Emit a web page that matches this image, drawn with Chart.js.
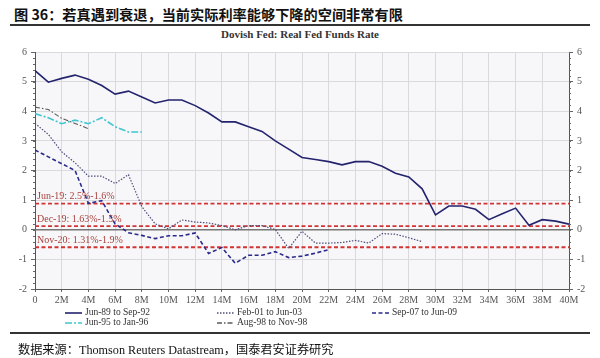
<!DOCTYPE html>
<html>
<head>
<meta charset="utf-8">
<script src="https://cdn.jsdelivr.net/npm/chart.js@4"></script>
<style>
  body { margin: 0; background: #fff; }
  #wrap { position: relative; width: 600px; height: 358px; overflow: hidden; }
  #chart { position: absolute; left: 0; top: 0; }
  .txt { position: absolute; white-space: nowrap; }
  #title { left: 14px; top: 4px; font: bold 14.2px "Noto Sans CJK SC", sans-serif; color: #111; }
  #sub { left: 0; width: 600px; text-align: center; top: 28px; font: bold 11px "Liberation Serif", serif; color: #333; }
  .rule { position: absolute; left: 10px; width: 580px; height: 1.5px; background: #333; }
  #src { left: 18px; top: 340px; font: 12.2px "Liberation Serif", "Noto Sans CJK SC", serif; color: #111; }
  .leg { position: absolute; font: 9.5px "Liberation Serif", serif; color: #333; }
  .leg svg { vertical-align: middle; margin-right: 3px; }
</style>
</head>
<body>
<div id="wrap">
  <div id="title" class="txt">图 36：若真遇到衰退，当前实际利率能够下降的空间非常有限</div>
  <div class="rule" style="top:24px"></div>
  <div id="sub" class="txt">Dovish Fed: Real Fed Funds Rate</div>
  <canvas id="chart" width="600" height="358"></canvas>
  <div id="legend"></div>
  <div class="rule" style="top:332px"></div>
  <div id="src" class="txt">数据来源：Thomson Reuters Datastream，国泰君安证券研究</div>
</div>
<script>
// months since start of each easing cycle
const jun89 = [5.37, 4.98, 5.11, 5.22, 5.08, 4.87, 4.58, 4.68, 4.48, 4.28, 4.38, 4.38, 4.19, 3.94, 3.64, 3.64, 3.48, 3.32, 3.0, 2.72,
               2.44, 2.37, 2.3, 2.19, 2.3, 2.3, 2.14, 1.91, 1.78, 1.38, 0.5, 0.8, 0.8, 0.69, 0.34, 0.54, 0.73, 0.15, 0.34, 0.29, 0.19];
const feb01 = [3.59, 3.22, 2.63, 2.26, 1.81, 1.81, 1.56, 1.86, 0.78, 0.2, 0.03, 0.33, 0.26, 0.23, 0.14, 0.0, 0.14, 0.14, 0.01, -0.63,
               -0.05, -0.45, -0.45, -0.43, -0.36, -0.45, -0.13, -0.15, -0.27, -0.4];
const sep07 = [2.69, 2.46, 2.23, 2.0, 0.89, 0.98, 0.2, -0.1, -0.19, -0.3, -0.2, -0.2, -0.11, -0.8, -0.6, -1.13, -0.86, -0.86, -0.74, -0.94,
               -0.89, -0.79, -0.67];
const jun95 = [3.92, 3.78, 3.58, 3.7, 3.58, 3.78, 3.48, 3.3, 3.3];
const aug98 = [4.14, 4.06, 3.76, 3.59, 3.41];

// current real rate ranges
const refLabels = ['Jun-19: 2.5%-1.6%', 'Dec-19: 1.63%-1.5%', 'Nov-20: 1.31%-1.9%'];
const refValues = [0.88, 0.12, -0.59];

const xMin = 0, xMax = 40;

const pts = arr => arr.map((v, i) => ({ x: i, y: v }));

const series = [
  { label: 'Jun-89 to Sep-92', data: jun89, color: '#23236e', width: 1.6, dash: [] },
  { label: 'Feb-01 to Jun-03', data: feb01, color: '#4d4d7a', width: 1.2, dash: [1.5, 1.5] },
  { label: 'Sep-07 to Jun-09', data: sep07, color: '#2a2a8c', width: 1.6, dash: [4, 2.5] },
  { label: 'Jun-95 to Jan-96', data: jun95, color: '#3fc6cf', width: 1.6, dash: [7, 2, 2, 2] },
  { label: 'Aug-98 to Nov-98', data: aug98, color: '#5a5a5a', width: 1.1, dash: [5, 2, 1.5, 2] }
];

const datasets = series.map(s => ({
  label: s.label, data: pts(s.data), borderColor: s.color, borderWidth: s.width,
  borderDash: s.dash, pointRadius: 0, tension: 0, fill: false
}));
refValues.forEach((v, i) => {
  datasets.push({
    label: refLabels[i], data: [{ x: xMin, y: v }, { x: xMax, y: v }], borderColor: '#d23434',
    borderWidth: 1.8, borderDash: [4, 2.5], pointRadius: 0, isRef: true
  });
});

// plot background, zero line, minor ticks, reference labels
const decor = {
  id: 'decor',
  beforeDatasetsDraw(chart) {
    const { ctx, chartArea: a, scales } = chart;
    const y0 = scales.y.getPixelForValue(0);
    ctx.save();
    ctx.strokeStyle = '#777';
    ctx.lineWidth = 1.3;
    ctx.beginPath(); ctx.moveTo(a.left, y0); ctx.lineTo(a.right, y0); ctx.stroke();
    // minor ticks
    ctx.strokeStyle = '#666';
    ctx.lineWidth = 1;
    for (let v = -2; v <= 6.001; v += 0.2) {
      const p = Math.round(scales.y.getPixelForValue(v)) + 0.5;
      ctx.beginPath(); ctx.moveTo(a.left - 2, p); ctx.lineTo(a.left, p); ctx.stroke();
      ctx.beginPath(); ctx.moveTo(a.right, p); ctx.lineTo(a.right + 2, p); ctx.stroke();
    }
    ctx.restore();
  },
  beforeDraw(chart) {
    const { ctx, chartArea: a } = chart;
    ctx.save();
    ctx.fillStyle = '#f7f7f9';
    ctx.fillRect(a.left, a.top, a.right - a.left, a.bottom - a.top);
    ctx.restore();
  },
  afterDatasetsDraw(chart) {
    const { ctx, chartArea: a, scales } = chart;
    ctx.save();
    ctx.font = '10px "Liberation Serif", serif';
    ctx.fillStyle = '#a8403c';
    ctx.textBaseline = 'bottom';
    refValues.forEach((v, i) => {
      ctx.fillText(refLabels[i], a.left + 2, scales.y.getPixelForValue(v) - 2);
    });
    ctx.restore();
  }
};

const tickFont = { family: '"Liberation Serif", serif', size: 10 };

new Chart(document.getElementById('chart'), {
  type: 'line',
  data: { datasets },
  plugins: [decor],
  options: {
    responsive: false,
    animation: false,
    layout: { padding: { top: 52, bottom: 55, left: 0, right: 0 } },
    plugins: { legend: { display: false }, tooltip: { enabled: false } },
    scales: {
      x: {
        type: 'linear', min: xMin, max: xMax,
        ticks: { stepSize: 2, color: '#555', font: tickFont, padding: 2, maxRotation: 0,
                 callback: v => v === 0 ? '0' : v + 'M' },
        grid: { color: '#d9d9de', tickLength: 3, tickColor: '#666' },
        border: { color: '#555' },
        afterFit(s) { s.height = 14; }
      },
      y: {
        position: 'left', min: -2, max: 6,
        ticks: { stepSize: 1, color: '#555', font: tickFont, padding: 4 },
        grid: { color: '#d9d9de', tickLength: 4, tickColor: '#666' },
        border: { color: '#555' },
        afterFit(s) { s.width = 35; }
      },
      y2: {
        position: 'right', min: -2, max: 6,
        ticks: { stepSize: 1, color: '#555', font: tickFont, padding: 4 },
        grid: { drawOnChartArea: false, tickLength: 4, tickColor: '#666' },
        border: { color: '#555' },
        afterFit(s) { s.width = 31; }
      }
    }
  }
});

// legend (3 columns, 2 rows as in the reference)
const legPos = [[65, 307], [217, 307], [372, 307], [65, 317], [217, 317]];
const legendEl = document.getElementById('legend');
series.forEach((s, i) => {
  const d = document.createElement('div');
  d.className = 'leg';
  d.style.left = legPos[i][0] + 'px';
  d.style.top = legPos[i][1] + 'px';
  d.innerHTML = '<svg width="17" height="6"><line x1="0" y1="3" x2="17" y2="3" stroke="' + s.color +
    '" stroke-width="' + Math.max(1.4, s.width) + '" stroke-dasharray="' + (s.dash.join(',') || 'none') + '"/></svg>' + s.label;
  legendEl.appendChild(d);
});
</script>
</body>
</html>
